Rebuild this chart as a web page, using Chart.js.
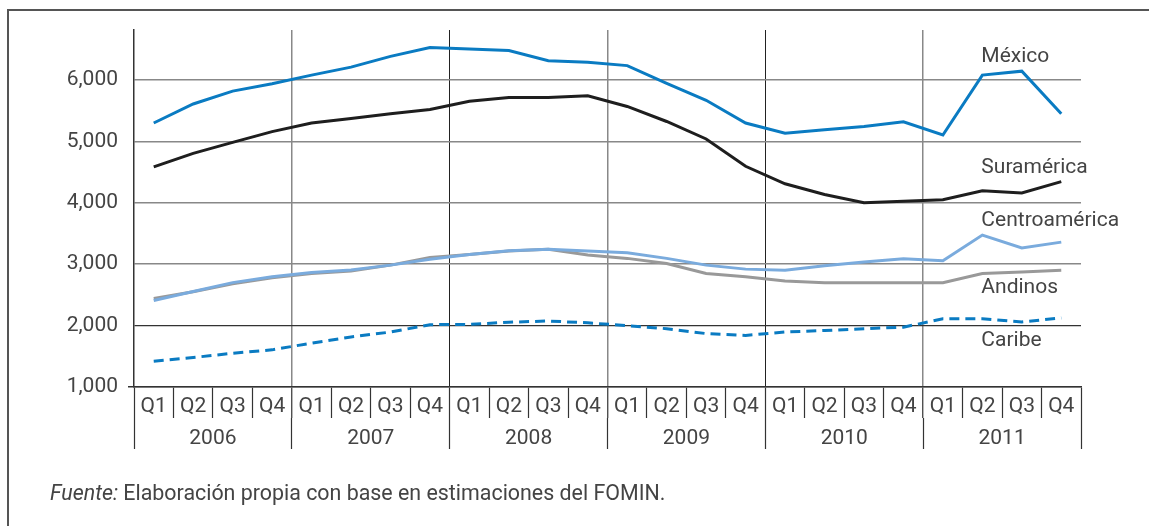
<!DOCTYPE html>
<html lang="es">
<head>
    <meta charset="UTF-8">
    <title>Remesas por región</title>
    <script src="https://cdn.jsdelivr.net/npm/chart.js"></script>
    <style>
        body { margin: 0; background: #fff; overflow: hidden; }
        #wrap { position: relative; width: 1149px; height: 526px; }
        /* marco del recuadro */
        #marco { position: absolute; left: 7px; top: 9px; width: 1200px; height: 600px; border: 2px solid #555; }
        #fuente { position: absolute; left: 50px; top: 480px; font: 21.4px Roboto, sans-serif; color: #444; }
        canvas { position: absolute; left: 0; top: 0; }
    </style>
</head>
<body>
<div id="wrap">
    <div id="marco"></div>
    <canvas id="grafico" width="1149" height="526"></canvas>
    <div id="fuente"><i>Fuente:</i> Elaboración propia con base en estimaciones del FOMIN.</div>
</div>

<script>
    // Datos (trimestres 2006-2011)
    const years = ['2006', '2007', '2008', '2009', '2010', '2011'];
    const quarters = ['Q1', 'Q2', 'Q3', 'Q4'];
    const yTicks = [1000, 2000, 3000, 4000, 5000, 6000];

    const mexico = [5300, 5610, 5820, 5940, 6080, 6210, 6385, 6530, 6505, 6480, 6315, 6290,
                    6235, 5945, 5670, 5300, 5135, 5190, 5245, 5320, 5105, 6080, 6145, 5450];
    const suramerica = [4585, 4805, 4985, 5160, 5300, 5375, 5450, 5520, 5655, 5715, 5715, 5745,
                        5570, 5325, 5040, 4595, 4310, 4135, 4000, 4025, 4050, 4195, 4160, 4345];
    const centroamerica = [2410, 2555, 2700, 2795, 2865, 2905, 2985, 3080, 3160, 3220, 3245, 3215,
                           3185, 3095, 2985, 2920, 2900, 2975, 3035, 3090, 3055, 3475, 3265, 3360];
    const andinos = [2440, 2550, 2680, 2780, 2850, 2890, 2985, 3110, 3160, 3215, 3245, 3150,
                     3095, 3010, 2850, 2795, 2725, 2700, 2700, 2700, 2700, 2850, 2875, 2900];
    const caribe = [1420, 1480, 1550, 1605, 1715, 1815, 1895, 2015, 2020, 2055, 2075, 2045,
                    2000, 1950, 1870, 1840, 1895, 1920, 1950, 1975, 2110, 2110, 2060, 2125];

    const labels = years.flatMap(() => quarters);
    const fuente = '21px Roboto, sans-serif';
    const tickFont = { family: 'Roboto', size: 21 };

    // etiquetas de series a la derecha
    const nombres = [
        { text: 'México', v: 6375 },
        { text: 'Suramérica', v: 4567 },
        { text: 'Centroamérica', v: 3704 },
        { text: 'Andinos', v: 2612 },
        { text: 'Caribe', v: 1749 }
    ];
    const etiquetas = {
        id: 'etiquetas',
        afterDatasetsDraw(chart) {
            const c = chart.ctx;
            const x = chart.scales.x.getPixelForValue(21) - 1;
            c.save();
            c.font = fuente;
            c.fillStyle = '#444';
            c.textAlign = 'left';
            c.textBaseline = 'middle';
            nombres.forEach(n => c.fillText(n.text, x, chart.scales.y.getPixelForValue(n.v)));
            c.restore();
        }
    };

    const azul = '#0a7bc2';
    function serie(label, data, color, extra) {
        return Object.assign({
            label: label, data: data, borderColor: color, backgroundColor: color,
            borderWidth: 3, pointRadius: 0, tension: 0, fill: false
        }, extra || {});
    }

    new Chart(document.getElementById('grafico'), {
        type: 'line',
        data: {
            labels: labels,
            datasets: [
                serie('México', mexico, azul),
                serie('Suramérica', suramerica, '#1e1e1e'),
                serie('Centroamérica', centroamerica, '#7aabdd'),
                serie('Andinos', andinos, '#999999'),
                serie('Caribe', caribe, azul, { borderDash: [10, 6] })
            ]
        },
        options: {
            responsive: false,
            animation: false,
            layout: { padding: { left: 44, right: 68, top: 30, bottom: 77 } },
            plugins: { legend: { display: false }, tooltip: { enabled: false } },
            scales: {
                x: {
                    type: 'category',
                    offset: true,
                    weight: 0,
                    afterFit(s) { s.height = 31; },
                    border: { color: '#333', width: 1.5 },
                    grid: {
                        offset: true,
                        color: c => (c.index !== undefined && c.index % 8 === 4) ? '#888' :
                                    (c.index !== undefined && c.index > 0 && c.index % 8 === 0) ? '#222' : 'rgba(0,0,0,0)',
                        lineWidth: c => (c.index !== undefined && c.index % 8 === 4) ? 1.5 : 1,
                        tickColor: '#333',
                        tickLength: 31,
                        tickWidth: 1.2
                    },
                    ticks: {
                        autoSkip: false, maxRotation: 0, padding: -23.5,
                        color: '#444', font: tickFont
                    }
                },
                x2: {
                    type: 'category',
                    labels: years,
                    position: 'bottom',
                    offset: true,
                    weight: 1,
                    afterFit(s) { s.height = 31; },
                    border: { display: false },
                    grid: {
                        offset: true, drawOnChartArea: false,
                        tickColor: '#333', tickLength: 31, tickWidth: 1.2
                    },
                    ticks: {
                        padding: -22.5, color: '#444', font: tickFont
                    }
                },
                y: {
                    min: 1000,
                    max: 6815,
                    afterFit(s) { s.width = 90; },
                    afterBuildTicks(s) { s.ticks = yTicks.map(v => ({ value: v })); },
                    border: { color: '#333', width: 1.5 },
                    grid: {
                        color: c => (c.tick && c.tick.value === 2000) ? '#333' : '#888',
                        lineWidth: c => (c.tick && c.tick.value === 2000) ? 1.2 : 1.5,
                        tickColor: c => (c.tick && c.tick.value === 1000) ? '#333' : 'rgba(0,0,0,0)',
                        tickLength: 6
                    },
                    ticks: {
                        padding: 10, color: '#444', font: tickFont,
                        callback: v => v.toLocaleString('en-US')
                    }
                }
            }
        },
        plugins: [etiquetas]
    });
</script>
</body>
</html>
